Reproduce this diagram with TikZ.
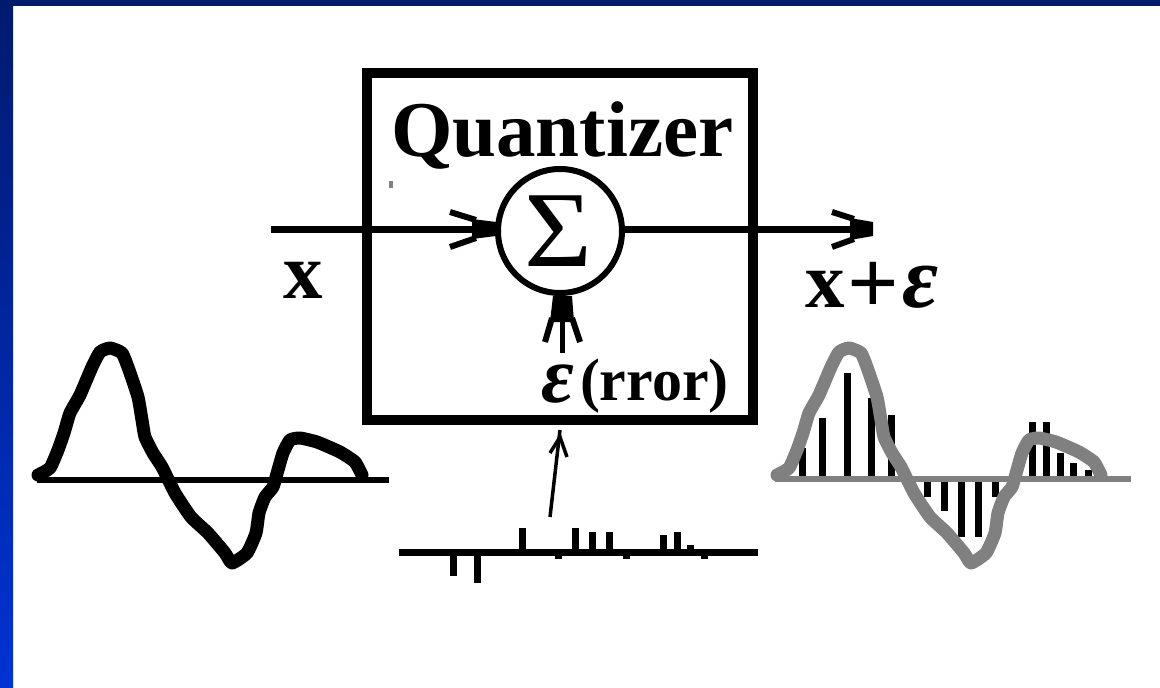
\documentclass[tikz,border=0pt]{standalone}
\usepackage{fontspec}
\setmainfont{Liberation Serif}
\definecolor{navy}{RGB}{0,26,110}
\definecolor{royal}{RGB}{0,51,212}
\definecolor{wavegray}{RGB}{128,128,128}
\def\wavepts{(38,475)(50,468)(58,450)(64,433)(70,413)(80,395)(92,367)(100,352)(110,348)(122,353)(129,370)(138,397)(142,420)(145,437)(153,453)(162,467)(175,493)(191,517)(208,533)(225,553)(232,563)(247,553)(256,533)(259,513)(265,497)(273,487)(278,470)(283,453)(290,440)(300,438)(317,442)(340,452)(355,462)(362,475)}
\tikzset{
  px/.style={line width=#1*0.75pt},
  wire/.style={px=7,line cap=butt},
  barb/.style={px=6,line cap=butt},
  thinbarb/.style={px=3.5},
  wave/.style={px=13,line join=round,line cap=round},
  spike/.style={px=7},
  txt/.style={inner sep=0pt,outer sep=0pt,anchor=base west,text=black},
  big/.style={txt,font=\fontsize{59.25}{60}\selectfont\bfseries},
  small/.style={txt,font=\fontsize{45}{46}\selectfont\bfseries},
}
\begin{document}
\begin{tikzpicture}[x=0.75pt,y=-0.75pt]
\useasboundingbox (0,0) rectangle (1160,688);
% slide frame
\fill[white] (0,0) rectangle (1160,688);
\shade[top color=navy,bottom color=royal,draw=none] (0,0) rectangle (13,688);
\fill[navy] (0,0) rectangle (1160,6);
% box
\node[draw=black,px=10,minimum width=386*0.75pt,minimum height=347*0.75pt,inner sep=0pt] (box) at (560,246.5) {};
\node[big] (title) at (391,157) {Quantizer};
\fill[wavegray] (389,181) rectangle (393,188);
% summer
\node[circle,draw=black,px=6,minimum size=124*0.75pt,inner sep=0pt] (sum) at (560,231) {};
\node[inner sep=0pt,xscale=1.08,font=\fontsize{81}{82}\selectfont] (sigma) at (558.5,231) {Σ};
% signal path
\coordinate (xin) at (271,229);
\coordinate (xout) at (873,229);
\draw[wire] (xin) -- (xin -| sum.west);
\draw[wire] (xout -| sum.east) -- (xout);
\coordinate (ia) at (450,212); \coordinate (ib) at (450,247);
\draw[barb] (ia) -- (476,220);
\draw[barb] (ib) -- (476,238);
\fill (472,219) -- (496,222) -- (496,236) -- (472,239) -- cycle;
\coordinate (oa) at (832,212); \coordinate (ob) at (832,247);
\draw[barb] (oa) -- (854,219);
\draw[barb] (ob) -- (854,239);
\fill (850,218) -- (873,222) -- (873,236) -- (850,240) -- cycle;
% error input
\coordinate (ein) at (562,353);
\draw[px=5] (ein) -- (ein |- sum.south);
\coordinate (ea) at (545,342); \coordinate (eb) at (580,342);
\draw[barb] (ea) -- (552,318);
\draw[barb] (eb) -- (572,318);
\fill (550,322) -- (574,322) -- (572,296) -- (553,296) -- cycle;
% labels
\node[big] (xlabel) at (283,298) {x};
\node[big] (xplus) at (805,307) {x};
\node[inner sep=0pt,font=\fontsize{68}{69}\selectfont\bfseries] (plus) at (873.5,288) {+};
\node[txt,font=\fontsize{66}{67}\selectfont\bfseries\itshape] (xeps) at (902,307) {ε};
\node[txt,font=\fontsize{60}{61}\selectfont\bfseries\itshape] (errE) at (541,402) {ε};
\node[small] (err) at (580,400) {(rror)};
% small arrow
\coordinate (sa) at (550,517); \coordinate (sb) at (560,430); \coordinate (sc) at (560,437);
\draw[thinbarb] (sa) -- (sb);
\coordinate (sd) at (550,453); \coordinate (se) at (567,457);
\draw[thinbarb] (sd) -- (sc) -- (se);
% error spectrum
\coordinate (ba) at (399,552); \coordinate (bb) at (758,552);
\foreach \x/\y in {522/528,575/528,592/532,609/532,663/535,677/532,690/545,453/576,477/583,558/559,626/559,704/559}
  \draw[spike] (\x,552) -- (\x,\y);
\draw[wire] (ba) -- (bb);
% input wave
\coordinate (la) at (37,480); \coordinate (lb) at (389,480);
\draw[px=6] (la) -- (lb);
\draw[wave] plot[smooth,tension=0.3] coordinates {\wavepts};
% output wave
\foreach \x/\y in {802/448,822/418,847/373,871/398,891/415,927/497,944/511,961/537,978/537,995/497,1032/422,1046/422,1060/453,1073/463,1088/470}
  \draw[spike] (\x,479) -- (\x,\y);
\coordinate (ra) at (775,479); \coordinate (rb) at (1131,479);
\draw[px=6,wavegray] (ra) -- (rb);
\begin{scope}[shift={(739,0)}]
\draw[wave,wavegray] plot[smooth,tension=0.3] coordinates {\wavepts};
\end{scope}
\end{tikzpicture}
\end{document}
